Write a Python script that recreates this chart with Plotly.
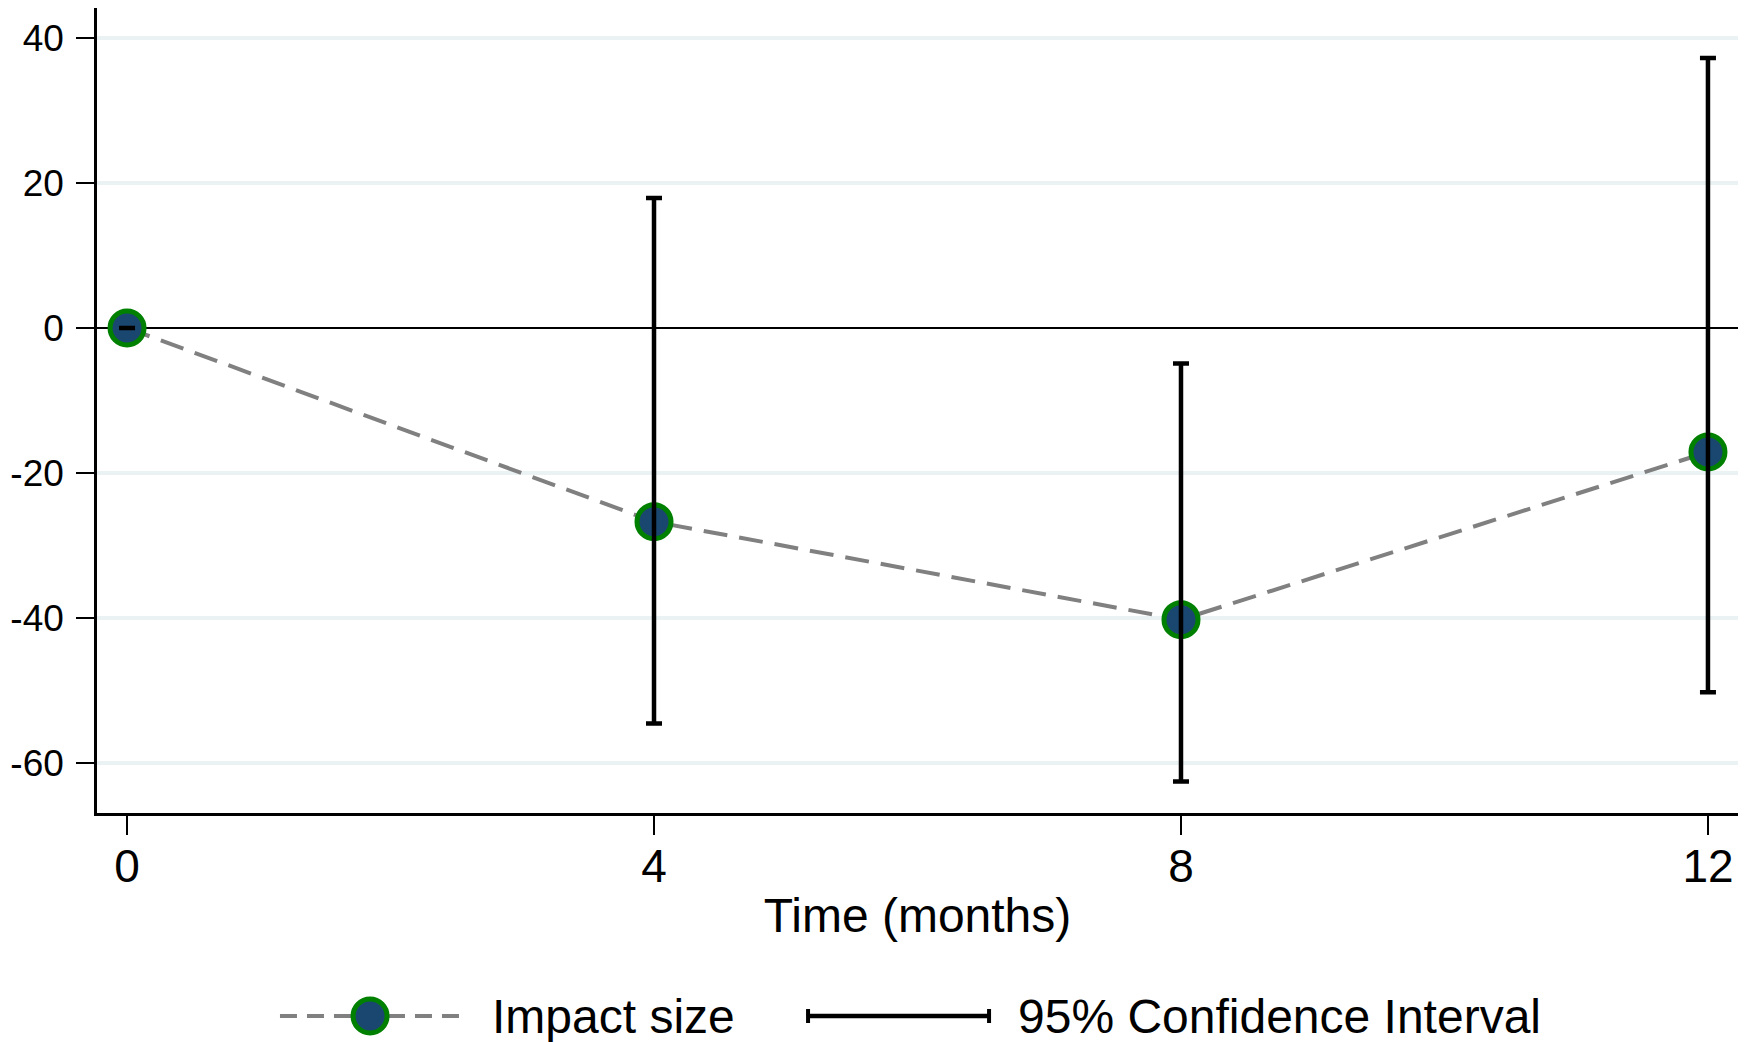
import plotly.graph_objects as go

# ---- data ----
months = [0, 4, 8, 12]
impact = [0, -26.7, -40.2, -17.1]
ci_low = [0, -54.5, -62.5, -50.2]
ci_high = [0, 17.9, -4.9, 37.2]
y_ticks = [-60, -40, -20, 0, 20, 40]
x_ticks = [0, 4, 8, 12]
legend_labels = ["Impact size", "95% Confidence Interval"]
x_title = "Time (months)"

FONT = "Liberation Sans, Arial, sans-serif"
NAVY = "#1a476f"
GREEN = "#008000"
GRAY = "#808080"

err_plus = [h - v for h, v in zip(ci_high, impact)]
err_minus = [v - l for v, l in zip(impact, ci_low)]

fig = go.Figure()

fig.add_trace(go.Scatter(
    x=months, y=impact, mode="lines+markers", name=legend_labels[0],
    line=dict(color=GRAY, width=4, dash="24px,12px"),
    marker=dict(size=34, color=NAVY, line=dict(color=GREEN, width=5)),
    showlegend=False,
))
fig.add_trace(go.Scatter(
    x=months, y=impact, mode="markers", name=legend_labels[1],
    marker=dict(size=1, color="rgba(0,0,0,0)"),
    error_y=dict(type="data", symmetric=False, array=err_plus, arrayminus=err_minus,
                 color="black", thickness=4.5, width=8),
    showlegend=False,
))

# ---- custom legend (paper coordinates) ----
ly = -0.2522
shapes = [
    dict(type="line", xref="paper", yref="paper", x0=0.1115, x1=0.2206, y0=ly, y1=ly,
         line=dict(color=GRAY, width=4, dash="17px,10px")),
    dict(type="circle", xref="paper", yref="paper", xsizemode="pixel", ysizemode="pixel",
         xanchor=0.1664, yanchor=ly, x0=-17, x1=17, y0=-17, y1=17,
         fillcolor=NAVY, line=dict(color=GREEN, width=5)),
    dict(type="line", xref="paper", yref="paper", x0=0.4333, x1=0.5436, y0=ly, y1=ly,
         line=dict(color="black", width=4.5)),
    dict(type="line", xref="paper", yref="paper", ysizemode="pixel", yanchor=ly,
         x0=0.4333, x1=0.4333, y0=-7, y1=7, line=dict(color="black", width=4)),
    dict(type="line", xref="paper", yref="paper", ysizemode="pixel", yanchor=ly,
         x0=0.5436, x1=0.5436, y0=-7, y1=7, line=dict(color="black", width=4)),
]
for s in shapes:
    fig.add_shape(**s)

fig.add_annotation(x=0.2395, y=ly, xref="paper", yref="paper", text=legend_labels[0],
                   showarrow=False, xanchor="left", yanchor="middle",
                   font=dict(family=FONT, size=48, color="black"))
fig.add_annotation(x=0.5600, y=ly, xref="paper", yref="paper", text=legend_labels[1],
                   showarrow=False, xanchor="left", yanchor="middle",
                   font=dict(family=FONT, size=48, color="black"))

fig.update_layout(
    width=1754, height=1042,
    margin=dict(l=97, r=16, t=8, b=229),
    paper_bgcolor="white", plot_bgcolor="white",
    font=dict(family=FONT, color="black"),
    showlegend=False,
    xaxis=dict(
        range=[-0.228, 12.228], tickvals=x_ticks, ticktext=[str(t) for t in x_ticks],
        showgrid=False, zeroline=False, showline=True, linecolor="black", linewidth=2.5,
        ticks="outside", ticklen=19, tickwidth=2, tickcolor="black",
        tickfont=dict(family=FONT, size=46, color="black"),
        ticklabelstandoff=-8,
        title=dict(text=x_title, font=dict(family=FONT, size=48, color="black"), standoff=8),
    ),
    yaxis=dict(
        range=[-66.85, 44.1], tickvals=y_ticks, ticktext=[str(t) for t in y_ticks],
        showgrid=True, gridcolor="#eaf2f3", gridwidth=4,
        zeroline=True, zerolinecolor="black", zerolinewidth=1.5,
        showline=True, linecolor="black", linewidth=2.5,
        ticks="outside", ticklen=18, tickwidth=2, tickcolor="black",
        tickfont=dict(family=FONT, size=37, color="black"),
        ticklabelstandoff=5,
    ),
)

fig.write_html("out.html", config={"displayModeBar": False},
               post_script="document.body.style.margin='0';")
